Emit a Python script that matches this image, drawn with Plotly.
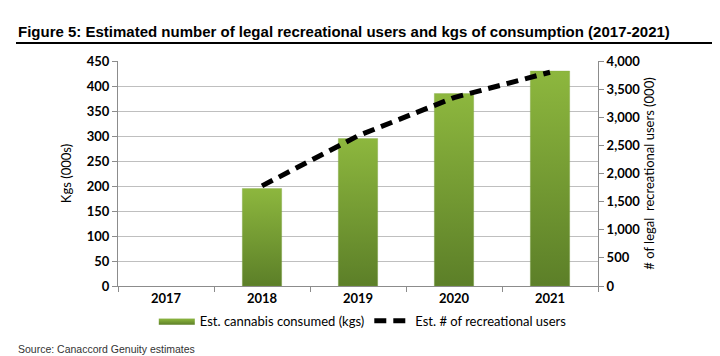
import plotly.graph_objects as go

years = ["2017", "2018", "2019", "2020", "2021"]
kgs_consumed = [None, 195, 295, 385, 430]
rec_users = [None, 1780, 2670, 3350, 3800]

left_ticks = [0, 50, 100, 150, 200, 250, 300, 350, 400, 450]
right_ticks = [0, 500, 1000, 1500, 2000, 2500, 3000, 3500, 4000]

BAR_W = 0.41
LIGHT = "#8db73e"
DARK = "#5c7f28"
GRID = "#bfbfbf"
AX = "#8c8c8c"
FONT = "Lato, Carlito, Liberation Sans, sans-serif"

fig = go.Figure()

xs = list(range(len(years)))
first = True
for i, v in zip(xs, kgs_consumed):
    if v is None:
        continue
    fig.add_trace(go.Scatter(
        x=[i - BAR_W / 2, i - BAR_W / 2, i + BAR_W / 2, i + BAR_W / 2, i - BAR_W / 2],
        y=[0, v, v, 0, 0],
        mode="lines", line=dict(width=0.5, color="rgba(120,160,60,0.6)"),
        fill="toself",
        fillgradient=dict(type="vertical", colorscale=[[0, DARK], [1, LIGHT]]),
        fillcolor="#76a035",
        name="Est. cannabis consumed (kgs)",
        legendgroup="bars", showlegend=first, hoverinfo="skip",
    ))
    first = False

fig.add_trace(go.Scatter(
    x=xs, y=rec_users, yaxis="y2", mode="lines",
    line=dict(color="black", width=5, dash="12px,7px"),
    name="Est. # of recreational users", connectgaps=False,
))

fig.update_layout(
    width=720, height=356,
    margin=dict(l=110, r=130, t=53, b=78),
    paper_bgcolor="white", plot_bgcolor="white",
    font=dict(family=FONT, size=13, color="black"),
    xaxis=dict(
        range=[-0.5, 4.5], tickmode="array", tickvals=xs, ticktext=years,
        ticks="", showgrid=False, zeroline=False,
        showline=True, linecolor=AX, linewidth=1,
        tickfont=dict(family=FONT, size=13, color="black", weight="bold"),
        minor=dict(tickmode="array", tickvals=[-0.5, 0.5, 1.5, 2.5, 3.5, 4.5],
                   ticks="outside", ticklen=5, tickcolor=AX, showgrid=False),
        fixedrange=True,
    ),
    yaxis=dict(
        range=[0, 450], tickmode="array", tickvals=left_ticks,
        ticktext=[str(t) for t in left_ticks],
        showgrid=True, gridcolor=GRID, gridwidth=1, zeroline=False,
        showline=True, linecolor=AX, linewidth=1,
        ticks="outside", ticklen=5, tickcolor=AX,
        tickfont=dict(family=FONT, size=13, color="black", weight="bold"),
        title=dict(text="Kgs (000s)", font=dict(family=FONT, size=13), standoff=12),
    ),
    yaxis2=dict(
        range=[0, 4000], overlaying="y", side="right",
        tickmode="array", tickvals=right_ticks,
        ticktext=[f"{t:,}" for t in right_ticks],
        showgrid=False, zeroline=False,
        showline=True, linecolor=AX, linewidth=1,
        ticks="outside", ticklen=5, tickcolor=AX,
        tickfont=dict(family=FONT, size=13, color="black", weight="bold"),
        title=dict(text="# of legal\u00a0 recreational users (000)",
                   font=dict(family=FONT, size=13), standoff=5),
    ),
    legend=dict(
        orientation="h", x=0.51, xanchor="center", y=-0.155, yanchor="middle",
        font=dict(family=FONT, size=13), itemwidth=36,
        bgcolor="rgba(0,0,0,0)", tracegroupgap=0,
    ),
    showlegend=True,
)

fig.add_annotation(
    text="<b>Figure 5: Estimated number of legal recreational users and kgs of consumption (2017-2021)</b>",
    xref="paper", yref="paper", x=0, y=1, xshift=-102, yshift=30,
    xanchor="left", yanchor="middle", showarrow=False,
    font=dict(family="Liberation Sans Narrow, Arial Narrow, sans-serif", size=15, color="black"),
)
fig.add_shape(type="line", xref="paper", yref="paper",
              x0=-102 / 480, x1=(712 - 110) / 480, y0=(278 - 35) / 225, y1=(278 - 35) / 225,
              line=dict(color="black", width=2))
fig.add_annotation(
    text="Source: Canaccord Genuity estimates",
    xref="paper", yref="paper", x=0, y=0, xshift=-102, yshift=-63,
    xanchor="left", yanchor="middle", showarrow=False,
    font=dict(family="Liberation Sans Narrow, Arial Narrow, sans-serif", size=10.5, color="#333333"),
)

fig.write_html("out.html")
